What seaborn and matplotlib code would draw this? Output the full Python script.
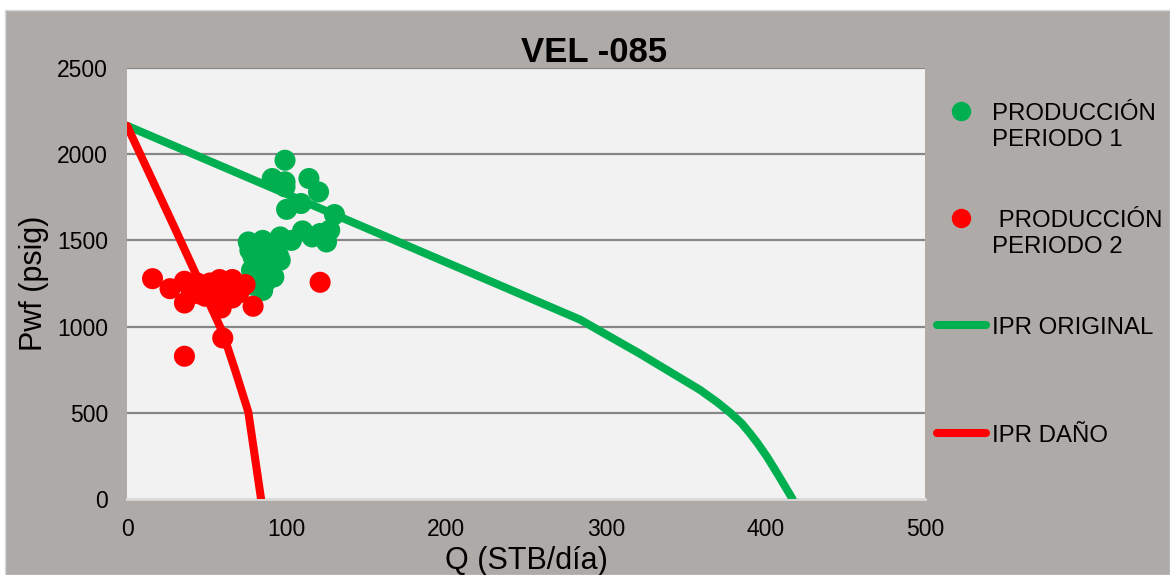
import matplotlib
matplotlib.use("Agg")
import matplotlib.pyplot as plt
import seaborn as sns
import pandas as pd
from matplotlib.lines import Line2D
from matplotlib.patches import Rectangle

# ---- data ----
p1_q = [99, 91, 99, 99, 114, 120, 100, 109, 130, 76, 85, 96, 110, 121, 125, 127,
        79, 90, 96, 78, 85, 92, 85, 79, 77, 88, 93, 83, 90, 103, 116, 95, 87, 82, 92, 88]
p1_p = [1965, 1859, 1840, 1811, 1859, 1781, 1680, 1714, 1650, 1491, 1500, 1520, 1555, 1540, 1491, 1559,
        1404, 1424, 1385, 1327, 1288, 1288, 1210, 1240, 1443, 1460, 1450, 1350, 1330, 1500, 1520, 1410, 1260, 1400, 1480, 1380]

p2_q = [16, 27, 36, 36, 44, 49, 52, 58, 57, 66, 74, 66, 59, 79, 60, 36, 40, 48, 64, 70, 121, 45, 55]
p2_p = [1278, 1220, 1263, 1137, 1253, 1176, 1253, 1273, 1157, 1273, 1244, 1166, 1108, 1118, 934, 828,
        1215, 1224, 1215, 1195, 1257, 1190, 1200]

ipr_orig_q = [0, 284, 300, 320, 338, 359, 370, 378, 385, 390, 395, 401, 408, 417]
ipr_orig_p = [2165, 1040, 955, 850, 750, 633, 560, 500, 440, 385, 325, 245, 140, 0]

ipr_dano_q = [0, 30, 60, 68, 76, 84]
ipr_dano_p = [2165, 1570, 965, 740, 505, 0]

x_ticks = [0, 100, 200, 300, 400, 500]
y_ticks = [0, 500, 1000, 1500, 2000, 2500]

title = "VEL -085"
xlabel = "Q (STB/día)"
ylabel = "Pwf (psig)"
leg_labels = ["PRODUCCIÓN\nPERIODO 1", " PRODUCCIÓN\nPERIODO 2", "IPR ORIGINAL", "IPR DAÑO"]

GREEN = "#00B050"
RED = "#FF0000"
PANEL = "#AEAAA8"
PLOTBG = "#F2F2F2"

sns.set_theme(style="white")
plt.rcParams["font.family"] = ["Liberation Sans", "DejaVu Sans"]

W, H = 1170, 575
fig = plt.figure(figsize=(W / 100, H / 100), dpi=100, facecolor="white")
panel = Rectangle((5 / W, 0), 1 - 5 / W, 1 - 10 / H, transform=fig.transFigure,
                  facecolor=PANEL, edgecolor="#D9D9D9", lw=1.0, zorder=-10)
fig.patches.append(panel)

ax = fig.add_axes([127 / W, 1 - 499 / H, (925 - 127) / W, (499 - 68) / H])
ax.set_zorder(2)
ax.set_facecolor(PLOTBG)

df1 = pd.DataFrame({"Q": p1_q, "P": p1_p})
df2 = pd.DataFrame({"Q": p2_q, "P": p2_p})
dfo = pd.DataFrame({"Q": ipr_orig_q, "P": ipr_orig_p})
dfd = pd.DataFrame({"Q": ipr_dano_q, "P": ipr_dano_p})

sns.scatterplot(data=df1, x="Q", y="P", ax=ax, color=GREEN, s=230, edgecolor="none", zorder=3, legend=False)
sns.scatterplot(data=df2, x="Q", y="P", ax=ax, color=RED, s=230, edgecolor="none", zorder=4, legend=False)
sns.lineplot(data=dfo, x="Q", y="P", ax=ax, color=GREEN, lw=5.8, sort=False, estimator=None,
             zorder=5, legend=False, solid_capstyle="round", solid_joinstyle="round")
sns.lineplot(data=dfd, x="Q", y="P", ax=ax, color=RED, lw=5.8, sort=False, estimator=None,
             zorder=5, legend=False, solid_capstyle="round", solid_joinstyle="round")

ax.set_xlim(0, 500)
ax.set_ylim(0, 2500)
ax.set_xticks(x_ticks)
ax.set_yticks(y_ticks)
ax.set_xticklabels([str(t) for t in x_ticks])
ax.set_yticklabels([str(t) for t in y_ticks])
ax.tick_params(axis="both", length=0, labelsize=16.5, colors="black", pad=13.5)
ax.grid(False)
for yv in y_ticks[1:]:
    ax.axhline(yv, color="#868686", lw=1.6, zorder=1)
for s in ["top", "right", "left"]:
    ax.spines[s].set_visible(False)
ax.spines["bottom"].set_color("#D9D9D9")
ax.spines["bottom"].set_linewidth(2)

ax.set_xlabel(xlabel, fontsize=22, color="black", labelpad=4)
ax.set_ylabel(ylabel, fontsize=22, color="black", labelpad=6)

fig.text(594 / W, 1 - 52 / H, title, ha="center", va="center", fontsize=25, fontweight="bold", color="black")

# ---- manual legend ----
def fy(py):
    return 1 - py / H

leg_y = [111, 218, 325, 433]
fs_leg = 17.3
cap = 0.716 * fs_leg * 100 / 72
for i, (lab, yy) in enumerate(zip(leg_labels, leg_y)):
    if i < 2:
        col = GREEN if i == 0 else RED
        fig.add_artist(Line2D([961 / W], [fy(yy)], transform=fig.transFigure, marker="o",
                              markersize=14, color=col, markeredgecolor="none", linestyle="none"))
    else:
        col = GREEN if i == 2 else RED
        fig.add_artist(Line2D([937 / W, 986 / W], [fy(yy), fy(yy)], transform=fig.transFigure,
                              color=col, lw=5.8, solid_capstyle="round"))
    for j, line in enumerate(lab.split("\n")):
        fig.text(992 / W, fy(yy + cap / 2 + j * 26), line, ha="left", va="baseline",
                 fontsize=fs_leg, color="black")

fig.savefig("out.png", dpi=100, facecolor=fig.get_facecolor())
